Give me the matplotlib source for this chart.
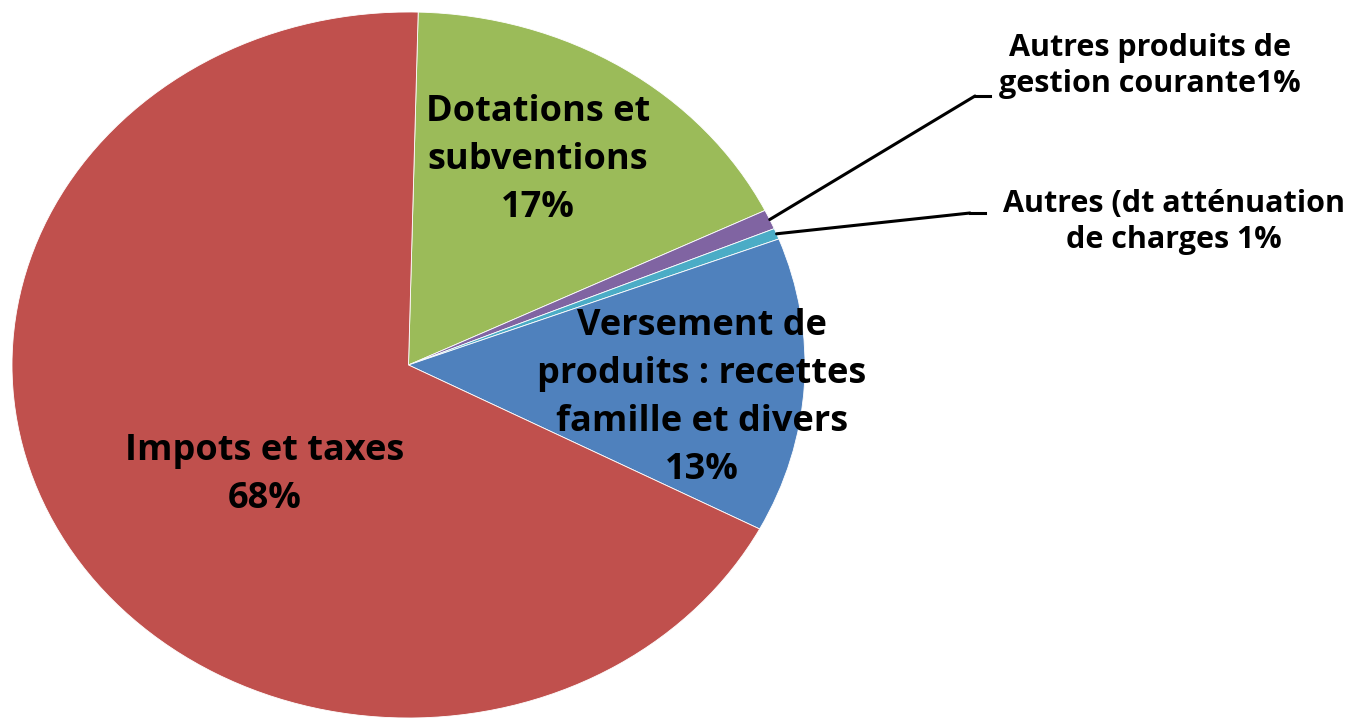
import matplotlib
matplotlib.use("Agg")
import matplotlib.pyplot as plt
import numpy as np

# Data
categories = ["Dotations et subventions", "Autres produits de gestion courante",
              "Autres (dt atténuation de charges", "Versement de produits : recettes famille et divers",
              "Impots et taxes"]
values = [17.4, 0.9, 0.5, 13.5, 67.7]
pct_labels = ["17%", "1%", "1%", "13%", "68%"]
colors = ["#9BBB59", "#8064A2", "#4BACC6", "#4F81BD", "#C0504D"]

W, H = 1355, 718
fig = plt.figure(figsize=(W / 100, H / 100), dpi=100)
fig.patch.set_facecolor("white")

def px(x, y):
    return (x / W, 1 - y / H)

# axes so pie ellipse spans x 12..805, y 12..718 (pixels from top)
ax = fig.add_axes([12 / W, 0 / H, 793 / W, 706 / H])
wedges, _ = ax.pie(values, colors=colors, startangle=88.6, counterclock=False,
                   radius=1.0, wedgeprops=dict(edgecolor="white", linewidth=0.6))
ax.set_aspect("auto")
ax.set_xlim(-1, 1)
ax.set_ylim(-1, 1)
ax.axis("off")

FONT = ["Open Sans", "DejaVu Sans"]
big = 26
small = 22

fig.text(*px(538, 160), "Dotations et\nsubventions\n" + pct_labels[0], ha="center", va="center",
         fontsize=big, fontweight="bold", family=FONT, linespacing=1.45)
fig.text(*px(702, 398), "Versement de\nproduits : recettes\nfamille et divers\n" + pct_labels[3],
         ha="center", va="center", fontsize=big, fontweight="bold", family=FONT, linespacing=1.45)
fig.text(*px(265, 475), "Impots et taxes\n" + pct_labels[4], ha="center", va="center",
         fontsize=big, fontweight="bold", family=FONT, linespacing=1.45)
fig.text(*px(1150, 66), "Autres produits de\ngestion courante" + pct_labels[1], ha="center",
         va="center", fontsize=small, fontweight="bold", family=FONT, linespacing=1.25)
fig.text(*px(1174, 222), "Autres (dt atténuation\nde charges " + pct_labels[2], ha="center",
         va="center", fontsize=small, fontweight="bold", family=FONT, linespacing=1.25)

# leader lines from wedge mid-angles
def edge_point(w):
    a = np.deg2rad((w.theta1 + w.theta2) / 2)
    return (np.cos(a), np.sin(a))

for w, elbow, end in [(wedges[1], (975, 96), (990, 96)), (wedges[2], (970, 213), (985, 213))]:
    ax.annotate("", xy=edge_point(w), xycoords="data", xytext=px(*elbow),
                textcoords="figure fraction",
                arrowprops=dict(arrowstyle="-", color="black", lw=2.2, shrinkA=0, shrinkB=0))
    fig.add_artist(plt.Line2D([px(*elbow)[0], px(*end)[0]], [px(*elbow)[1], px(*end)[1]],
                              transform=fig.transFigure, color="black", lw=2.2))

fig.savefig("out.png", dpi=100, facecolor="white")
